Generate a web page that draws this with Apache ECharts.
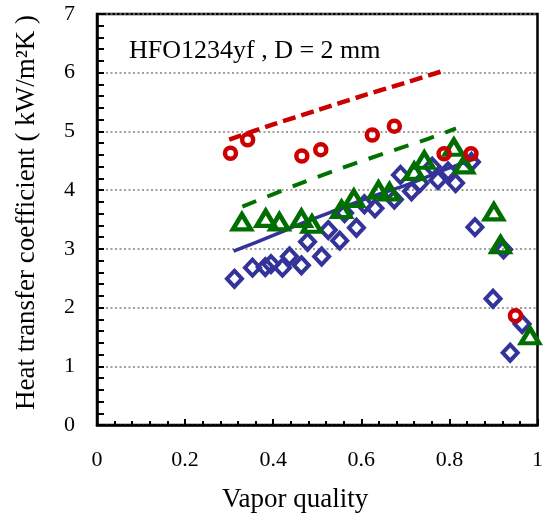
<!DOCTYPE html>
<html>
<head>
<meta charset="utf-8">
<script src="https://cdn.jsdelivr.net/npm/echarts@6/dist/echarts.min.js"></script>
<style>html,body{margin:0;padding:0;background:#fff}#c{width:546px;height:524px}</style>
</head>
<body>
<div id="c"></div>
<script>
// Experimental data (vapor quality, heat transfer coefficient kW/m2K)
const blueX = [0.312,0.353,0.382,0.395,0.421,0.437,0.464,0.478,0.510,0.525,0.551,0.562,0.589,0.607,0.631,0.675,0.689,0.714,0.733,0.761,0.774,0.797,0.814,0.850,0.858,0.899,0.923,0.938,0.965];
const blueY = [2.49,2.68,2.69,2.74,2.68,2.87,2.72,3.12,2.87,3.32,3.14,3.61,3.36,3.76,3.69,3.84,4.26,3.98,4.12,4.40,4.17,4.32,4.12,4.48,3.37,2.15,2.99,1.23,1.72];
const greenX = [0.329,0.383,0.414,0.464,0.488,0.555,0.583,0.639,0.664,0.720,0.743,0.810,0.833,0.901,0.916,0.983];
const greenY = [3.46,3.52,3.46,3.52,3.42,3.67,3.86,4.00,3.97,4.32,4.51,4.73,4.43,3.63,3.07,1.52];
const redX = [0.303,0.342,0.465,0.508,0.625,0.675,0.788,0.849,0.950];
const redY = [4.63,4.86,4.58,4.69,4.94,5.09,4.62,4.62,1.86];
// Correlation curves
const blueLineX = [0.31,0.40,0.47,0.55,0.62,0.70,0.78,0.86];
const blueLineY = [2.96,3.23,3.45,3.68,3.88,4.08,4.32,4.54];
const greenLineX = [0.33,0.45,0.55,0.65,0.75,0.815];
const greenLineY = [3.72,4.08,4.36,4.62,4.87,5.05];
const redLineX = [0.30,0.40,0.50,0.60,0.70,0.79];
const redLineY = [4.86,5.12,5.36,5.60,5.83,6.04];
const xTicks = [0,0.2,0.4,0.6,0.8,1];
const yTicks = [0,1,2,3,4,5,6,7];
const annotation = 'HFO1234yf , D = 2 mm';
const xTitle = 'Vapor quality';
const yTitle = 'Heat transfer coefficient ( kW/m\u00B2K )';

const zip = (a,b) => a.map((v,i)=>[v,b[i]]);
const FONT = 'Liberation Serif';
const chart = echarts.init(document.getElementById('c'), null, {renderer:'canvas'});
const hollow = (c,w) => ({color:'rgba(0,0,0,0)', borderColor:c, borderWidth:w, opacity:1});
chart.setOption({
  animation:false,
  backgroundColor:'#fff',
  title:[
    {text:annotation, left:124, top:33, textStyle:{fontFamily:FONT, fontSize:26, fontWeight:'normal', color:'#000'}},
    {text:xTitle, left:217, top:481, textStyle:{fontFamily:FONT, fontSize:27, fontWeight:'normal', color:'#000'}}
  ],
  grid:{left:97, right:5, top:14, bottom:99, show:true, borderColor:'#000', borderWidth:2.5, backgroundColor:'rgba(0,0,0,0)'},
  xAxis:{type:'value', min:xTicks[0], max:xTicks[xTicks.length-1], interval:0.2,
    axisLine:{show:true, onZero:false, lineStyle:{color:'#000', width:2.5}},
    axisTick:{show:true, inside:true, length:6, lineStyle:{color:'#000', width:2}},
    minorTick:{show:true, splitNumber:5, length:4, lineStyle:{color:'#000', width:2}},
    splitLine:{show:false},
    axisLabel:{margin:24, fontFamily:FONT, fontSize:22, color:'#000', formatter:v=>String(+v.toFixed(1))}
  },
  yAxis:{type:'value', min:yTicks[0], max:yTicks[yTicks.length-1], interval:1,
    name:yTitle, nameLocation:'middle', nameGap:57,
    nameTextStyle:{fontFamily:FONT, fontSize:27, color:'#000', padding:[0,0,0,14]},
    axisLine:{show:true, lineStyle:{color:'#000', width:2.5}},
    axisTick:{show:true, inside:true, length:7, lineStyle:{color:'#000', width:2}},
    minorTick:{show:true, splitNumber:5, length:7, lineStyle:{color:'#000', width:2}},
    splitLine:{show:true, lineStyle:{color:'#808080', width:1.5, type:[2,2.5]}},
    axisLabel:{margin:22, fontFamily:FONT, fontSize:22, color:'#000'}
  },
  series:[
    {type:'line', data:zip(blueLineX,blueLineY), showSymbol:false, smooth:0.3, lineStyle:{color:'#333399', width:3.5}, z:2},
    {type:'line', data:zip(greenLineX,greenLineY), showSymbol:false, smooth:0.3, lineStyle:{color:'#007000', width:4, type:[15,12]}, z:2},
    {type:'line', data:zip(redLineX,redLineY), showSymbol:false, smooth:0.3, lineStyle:{color:'#CC0000', width:4.5, type:[13,6]}, z:2},
    {type:'scatter', data:zip(blueX,blueY), symbol:'diamond', symbolSize:[15,16], itemStyle:hollow('#333399',4), z:3},
    {type:'scatter', data:zip(greenX,greenY), symbol:'triangle', symbolSize:[18,15], itemStyle:hollow('#006e00',4.5), z:4},
    {type:'scatter', data:zip(redX,redY), symbol:'circle', symbolSize:11, itemStyle:hollow('#CC0000',4.5), z:5}
  ]
});
</script>
</body>
</html>
